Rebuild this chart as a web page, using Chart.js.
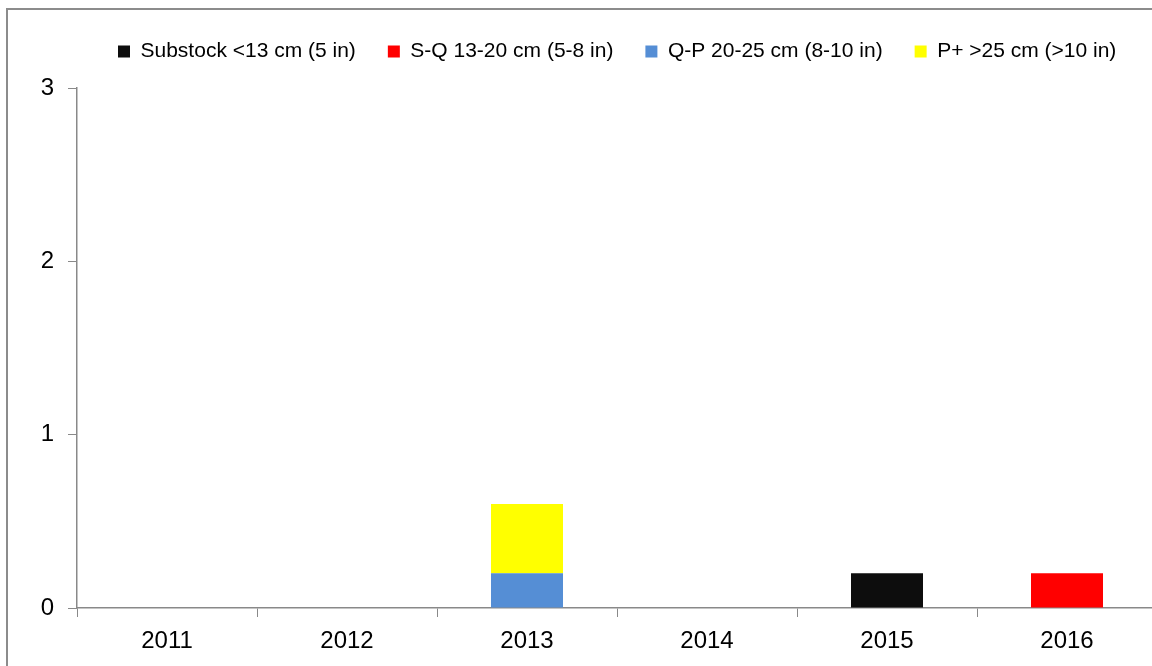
<!DOCTYPE html>
<html>
<head>
<meta charset="utf-8">
<script src="https://cdn.jsdelivr.net/npm/chart.js@4"></script>
<style>
  html,body{margin:0;padding:0;background:#fff;overflow:hidden;width:1152px;height:666px;}
  #frame{position:absolute;left:6px;top:8px;width:1400px;height:900px;border-left:2px solid #8c8c8c;border-top:2px solid #8c8c8c;}
  #myChart{position:absolute;left:0;top:0;}
</style>
</head>
<body>
<div id="frame"></div>
<canvas id="myChart" width="1240" height="666"></canvas>
<script>
'use strict';
let years=['2011','2012','2013','2014','2015','2016'];
let substock=[0,0,0,0,0.2,0];
let sqValues=[0,0,0,0,0,0.2];
let qpValues=[0,0,0.2,0,0,0];
let pPlusValues=[0,0,0.4,0,0,0];
let yTicks=[0,1,2,3];

let axisColor='#898989';

// keep legend height fixed so the plot starts where it does in the picture
let legendFix={
  id:'legendFix',
  beforeInit(chart){
    let fit=chart.legend.fit;
    chart.legend.fit=function(){
      fit.call(this);
      this.height=88;
    };
  },
  afterLayout(chart){
    let lg=chart.legend;
    lg.left=86;
    lg.top=9;
  }
};

let ctx=document.getElementById('myChart');
let myChart=new Chart(ctx,{
  type:'bar',
  data:{
    labels:years,
    datasets:[{
      label:'Substock <13 cm (5 in)',
      data:substock,
      backgroundColor:'#0d0d0d'
    },{
      label:'S-Q 13-20 cm (5-8 in)',
      data:sqValues,
      backgroundColor:'#ff0000'
    },{
      label:'Q-P 20-25 cm (8-10 in)',
      data:qpValues,
      backgroundColor:'#558ed5'
    },{
      label:'P+ >25 cm (>10 in)',
      data:pPlusValues,
      backgroundColor:'#ffff00'
    }]
  },
  options:{
    responsive:false,
    animation:false,
    layout:{padding:{left:0,right:83,top:0,bottom:0}},
    barPercentage:0.5,
    categoryPercentage:0.8,
    plugins:{
      legend:{
        position:'top',
        align:'start',
        labels:{
          boxWidth:12,
          boxHeight:12,
          padding:32,
          color:'#000',
          font:{family:'"Liberation Sans", Arial, sans-serif',size:21}
        }
      },
      tooltip:{enabled:false}
    },
    scales:{
      x:{
        stacked:true,
        grid:{display:true,drawOnChartArea:false,tickLength:9,color:axisColor,offset:true},
        border:{color:axisColor,width:1.5},
        ticks:{color:'#000',padding:10,font:{family:'"Liberation Sans", Arial, sans-serif',size:24}},
        afterFit(scale){ scale.height=58; }
      },
      y:{
        stacked:true,
        min:yTicks[0],
        max:yTicks[yTicks.length-1],
        grid:{display:true,drawOnChartArea:false,tickLength:9,color:axisColor},
        border:{color:axisColor,width:1.5},
        ticks:{stepSize:1,color:'#000',padding:14,font:{family:'"Liberation Sans", Arial, sans-serif',size:24}},
        afterFit(scale){ scale.width=77; }
      }
    }
  },
  plugins:[legendFix]
});
</script>
</body>
</html>
